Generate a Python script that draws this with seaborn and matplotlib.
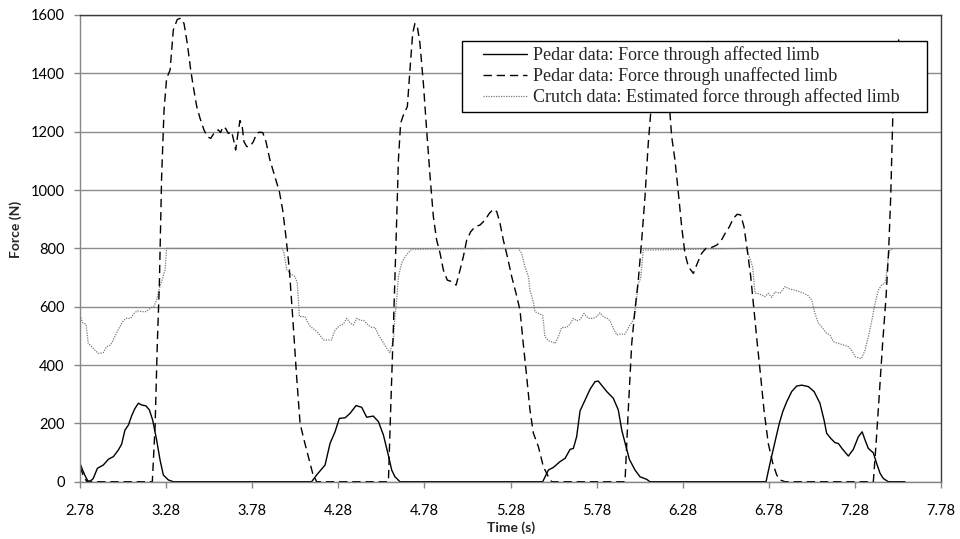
import matplotlib
matplotlib.use("Agg")
import matplotlib.pyplot as plt
import seaborn as sns
from matplotlib.legend_handler import HandlerLine2D

# Pedar data: force through affected limb (solid)
t_affected = [2.78, 2.795, 2.81, 2.825, 2.84, 2.857, 2.881, 2.915, 2.945, 2.974,
              3.003, 3.022, 3.041, 3.061, 3.080, 3.099, 3.119, 3.138, 3.163, 3.183,
              3.202, 3.225, 3.245, 3.264, 3.293, 3.322,
              4.125, 4.154, 4.203, 4.232, 4.261, 4.286, 4.319, 4.348, 4.383, 4.416,
              4.445, 4.483, 4.513, 4.542, 4.571, 4.590, 4.609, 4.638,
              5.467, 5.500, 5.529, 5.568, 5.597, 5.626, 5.645, 5.664, 5.684, 5.713,
              5.742, 5.771, 5.790, 5.809, 5.839, 5.877, 5.906, 5.926, 5.951, 5.970,
              6.003, 6.032, 6.071, 6.090,
              6.764, 6.787, 6.816, 6.841, 6.861, 6.884, 6.913, 6.942, 6.971, 7.010,
              7.043, 7.077, 7.101, 7.116, 7.139, 7.164, 7.184, 7.209, 7.242, 7.271,
              7.300, 7.322, 7.339, 7.358, 7.387, 7.406, 7.426, 7.445, 7.474, 7.570]
f_affected = [63, 40, 20, 3, 2, 11, 46, 57, 77, 86,
              109, 129, 177, 194, 226, 251, 269, 263, 260, 246,
              211, 143, 74, 23, 6, 0,
              0, 23, 57, 131, 171, 217, 219, 234, 261, 255,
              221, 225, 206, 160, 90, 40, 17, 0,
              0, 40, 49, 69, 80, 111, 114, 154, 243, 280,
              317, 343, 345, 331, 309, 286, 246, 177, 120, 77,
              40, 17, 8, 0,
              0, 63, 137, 200, 240, 274, 309, 328, 331, 326,
              309, 269, 211, 166, 149, 134, 131, 111, 88, 111,
              154, 171, 143, 114, 99, 63, 29, 11, 0, 0]

# Pedar data: force through unaffected limb (dashed)
t_unaffected = [2.78, 2.80, 2.82, 3.200, 3.216, 3.229, 3.241, 3.254, 3.268, 3.283,
                3.303, 3.322, 3.345, 3.365, 3.384, 3.403, 3.423, 3.438, 3.458, 3.477,
                3.500, 3.519, 3.539, 3.564, 3.583, 3.597, 3.609, 3.626, 3.641, 3.661,
                3.674, 3.684, 3.696, 3.709, 3.721, 3.732, 3.748, 3.767, 3.787, 3.806,
                3.821, 3.841, 3.860, 3.883, 3.912, 3.938, 3.957, 3.976, 3.996, 4.019,
                4.038, 4.058, 4.081, 4.106, 4.131, 4.154,
                4.571, 4.584, 4.600, 4.615, 4.629, 4.642, 4.658, 4.681, 4.696, 4.712,
                4.725, 4.739, 4.754, 4.774, 4.793, 4.813, 4.832, 4.851, 4.871, 4.890,
                4.913, 4.939, 4.964, 4.987, 5.006, 5.026, 5.049, 5.074, 5.103, 5.132,
                5.157, 5.180, 5.200, 5.219, 5.238, 5.262, 5.287, 5.312, 5.335, 5.354,
                5.374, 5.393, 5.413, 5.442, 5.471, 5.500, 5.519,
                5.945, 5.964, 5.984, 6.003, 6.022, 6.042, 6.061, 6.080, 6.094, 6.12,
                6.15, 6.18, 6.206, 6.216, 6.235, 6.255, 6.274, 6.293, 6.313, 6.342,
                6.365, 6.390, 6.415, 6.448, 6.477, 6.500, 6.526, 6.551, 6.574, 6.597,
                6.617, 6.636, 6.655, 6.675, 6.694, 6.713, 6.733, 6.752, 6.777, 6.803,
                6.826, 6.845, 6.874,
                7.387, 7.403, 7.422, 7.441, 7.461, 7.476, 7.488, 7.500, 7.518, 7.535]
f_unaffected = [50, 20, 0, 0, 189, 474, 680, 1046, 1274, 1383,
                1411, 1549, 1585, 1589, 1571, 1503, 1411, 1354, 1286, 1246,
                1206, 1183, 1177, 1200, 1206, 1197, 1217, 1211, 1194, 1200,
                1166, 1137, 1189, 1238, 1223, 1166, 1149, 1149, 1166, 1194,
                1198, 1197, 1166, 1103, 1046, 994, 931, 840, 726, 531,
                360, 200, 143, 86, 29, 0,
                0, 246, 531, 817, 1103, 1229, 1257, 1286, 1411, 1537,
                1571, 1560, 1503, 1366, 1206, 1046, 909, 829, 783, 726,
                691, 686, 674, 726, 771, 829, 857, 874, 880, 897,
                920, 934, 926, 886, 829, 771, 703, 646, 589, 474,
                360, 246, 166, 120, 51, 17, 0,
                0, 246, 474, 589, 691, 829, 977, 1160, 1263, 1400,
                1450, 1400, 1263, 1183, 1103, 989, 874, 783, 737, 714,
                749, 783, 800, 803, 811, 823, 851, 874, 903, 917,
                914, 874, 794, 703, 589, 474, 360, 246, 131, 63,
                23, 6, 0,
                0, 131, 303, 474, 634, 794, 977, 1251, 1400, 1520]

# Crutch data: estimated force through affected limb (dotted)
t_crutch = [2.78, 2.795, 2.815, 2.828, 2.848, 2.867, 2.886, 2.915, 2.935, 2.958,
            2.977, 3.003, 3.028, 3.047, 3.074, 3.094, 3.113, 3.138, 3.163, 3.187,
            3.210, 3.225, 3.241, 3.254, 3.274, 3.283,
            3.955, 3.965, 3.981, 4.000, 4.029, 4.042, 4.054, 4.087, 4.100, 4.120, 4.145,
            4.164, 4.193, 4.212, 4.241, 4.261, 4.286, 4.309, 4.329, 4.348, 4.367,
            4.387, 4.406, 4.429, 4.454, 4.474, 4.493, 4.513, 4.532, 4.561, 4.580,
            4.600, 4.609, 4.619, 4.629, 4.648, 4.667, 4.687, 4.706,
            5.325, 5.345, 5.364, 5.384, 5.393, 5.413, 5.422, 5.442, 5.467, 5.480,
            5.500, 5.519, 5.539, 5.558, 5.577, 5.606, 5.626, 5.645, 5.664, 5.684,
            5.707, 5.732, 5.761, 5.780, 5.800, 5.819, 5.842, 5.858, 5.877, 5.897,
            5.916, 5.945, 5.974, 5.993, 6.009, 6.022, 6.036, 6.051,
            6.651, 6.667, 6.686, 6.700, 6.713, 6.739, 6.758, 6.777, 6.797, 6.816,
            6.845, 6.874, 6.903, 6.932, 6.961, 6.984, 7.010, 7.029, 7.048, 7.068,
            7.087, 7.116, 7.135, 7.155, 7.184, 7.213, 7.242, 7.261, 7.281, 7.306,
            7.319, 7.339, 7.358, 7.377, 7.397, 7.416, 7.435, 7.455, 7.464, 7.474,
            7.484, 7.503]
f_crutch = [571, 545, 540, 474, 463, 451, 440, 442, 463, 469,
            491, 522, 549, 560, 560, 577, 586, 583, 583, 594,
            602, 623, 663, 686, 726, 800,
            800, 783, 726, 714, 703, 680, 566, 566, 549, 531, 520,
            509, 486, 486, 486, 520, 534, 540, 560, 545, 537,
            560, 554, 552, 537, 529, 529, 503, 486, 457, 442,
            486, 566, 623, 703, 749, 771, 785, 797,
            800, 783, 737, 703, 657, 615, 583, 577, 571, 497,
            483, 480, 474, 497, 529, 529, 540, 560, 552, 556,
            577, 560, 560, 566, 579, 566, 560, 552, 526, 503,
            506, 506, 537, 554, 611, 680, 697, 794,
            800, 771, 737, 646, 646, 640, 634, 646, 632, 651,
            646, 669, 660, 657, 651, 646, 637, 623, 577, 543,
            531, 509, 503, 480, 474, 469, 463, 451, 429, 423,
            423, 451, 497, 549, 611, 657, 674, 680, 714, 771,
            794, 800]

x_ticks = [2.78, 3.28, 3.78, 4.28, 4.78, 5.28, 5.78, 6.28, 6.78, 7.28, 7.78]
y_ticks = [0, 200, 400, 600, 800, 1000, 1200, 1400, 1600]
labels = ["Pedar data: Force through affected limb",
          "Pedar data: Force through unaffected limb",
          "Crutch data: Estimated force through affected limb"]

sns.set_style("white")
plt.rcParams['font.family'] = ['Lato', 'DejaVu Sans']

fig = plt.figure(figsize=(9.6, 5.39), dpi=100)
ax = fig.add_axes([80 / 960, 1 - 481.7 / 539, 861 / 960, 466.7 / 539])

sns.lineplot(x=t_crutch, y=f_crutch, ax=ax, color='#7a7a7a', lw=0.9,
             linestyle=(0, (1, 1)), estimator=None, sort=False)
sns.lineplot(x=t_unaffected, y=f_unaffected, ax=ax, color='black', lw=1.0,
             linestyle=(0, (6, 3.5)), estimator=None, sort=False)
sns.lineplot(x=t_affected, y=f_affected, ax=ax, color='black', lw=1.0,
             estimator=None, sort=False)

ax.set_xlim(2.78, 7.78)
ax.set_ylim(0, 1600)
ax.set_xticks(x_ticks)
ax.set_xticklabels([f"{v:.2f}" for v in x_ticks])
ax.set_yticks(y_ticks)
ax.set_xlabel("")
ax.set_ylabel("")

ax.yaxis.grid(True, color='#8c8c8c', lw=1.0)
ax.xaxis.grid(False)
ax.set_axisbelow(True)
for side in ['left', 'bottom']:
    ax.spines[side].set_color('#868686')
    ax.spines[side].set_linewidth(1.0)
for side in ['top', 'right']:
    ax.spines[side].set_color('#3a3a3a')
    ax.spines[side].set_linewidth(1.0)

ax.tick_params(axis='both', bottom=True, left=True, direction='out', length=4,
               width=1, color='#868686', labelsize=10.5, labelcolor='black')
ax.tick_params(axis='y', pad=7)
ax.tick_params(axis='x', pad=12)

lines = ax.get_lines()
handles = [lines[2], lines[1], lines[0]]
hmap = {h: HandlerLine2D(xpad=0.87) for h in handles}
leg = ax.legend(handles, labels, loc='upper left',
                bbox_to_anchor=(0.4437, 0.790, 0.540, 0.1543), mode='expand',
                borderaxespad=0, borderpad=0.3, handlelength=3.31,
                handletextpad=0.33, labelspacing=0.17, fancybox=False,
                framealpha=1, edgecolor='black',
                prop={'family': 'Liberation Serif', 'size': 13},
                handler_map=hmap)
leg.get_frame().set_linewidth(1.0)

fig.text(16 / 960, 1 - 229 / 539, "Force (N)", rotation=90, ha='center',
         va='center', fontsize=10, fontweight='bold')
fig.text(511 / 960, 1 - 528 / 539, "Time (s)", ha='center', va='center',
         fontsize=10, fontweight='bold')

fig.savefig('out.png', dpi=100)
plt.close(fig)
